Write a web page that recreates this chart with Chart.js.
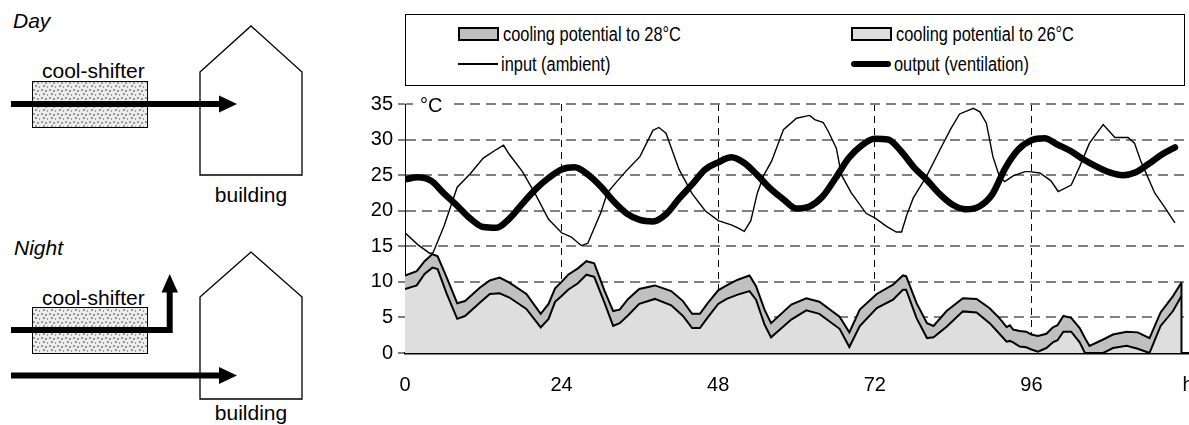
<!DOCTYPE html>
<html>
<head>
<meta charset="utf-8">
<script src="https://cdn.jsdelivr.net/npm/chart.js@4"></script>
<style>
  html, body { margin: 0; padding: 0; width: 1189px; height: 425px; overflow: hidden; background: #fff;
    font-family: "Liberation Sans", Arial, sans-serif; color: #000; }
  #diagram { position: absolute; left: 0; top: 0; }
  #chartBox { position: absolute; left: 340px; top: 0; width: 900px; height: 425px; }
  #legend { position: absolute; left: 405px; top: 14px; width: 780px; height: 72px; border: 1px solid #000; box-sizing: border-box; background: #fff; }
  .item { position: absolute; height: 22px; display: flex; align-items: center; white-space: nowrap; }
  .lt { display: inline-block; font-family: "Liberation Sans Narrow", "Arial Narrow", sans-serif; font-size: 20px; transform-origin: left center; }
  .swatch { width: 37px; height: 10px; border: 2px solid #000; margin-right: 4px; }
  .ln { width: 40px; background: #000; margin-right: 3px; }
  #unit { position: absolute; left: 413px; top: 95px; background: #fff; font-size: 20px; line-height: 20px; padding: 0 6px 0 7px; }
</style>
</head>
<body>

<svg id="diagram" width="340" height="425" xmlns="http://www.w3.org/2000/svg" font-family="Liberation Sans, Arial, sans-serif" font-size="21">
  <defs>
    <pattern id="dots" width="8" height="8" patternUnits="userSpaceOnUse">
      <rect width="8" height="8" fill="#ececec"/>
      <rect x="1" y="1" width="2" height="2" fill="#9a9a9a"/>
      <rect x="5" y="2" width="2" height="2" fill="#9a9a9a"/>
      <rect x="3" y="5" width="2" height="2" fill="#9a9a9a"/>
      <rect x="7" y="6" width="1" height="2" fill="#9a9a9a"/>
    </pattern>
  </defs>
  <!-- Day -->
  <text x="13" y="28" font-style="italic">Day</text>
  <text x="42" y="78">cool-shifter</text>
  <rect x="32.5" y="81.5" width="115" height="46" fill="url(#dots)" stroke="#000" stroke-width="1"/>
  <polygon points="200,72 251,26 302,72 302,175 200,175" fill="none" stroke="#000" stroke-width="1.3"/>
  <line x1="11" y1="104" x2="220" y2="104" stroke="#000" stroke-width="6"/>
  <polygon points="219,95.5 237,104 219,112.5" fill="#000"/>
  <text x="251" y="202" text-anchor="middle">building</text>
  <!-- Night -->
  <text x="14" y="255" font-style="italic">Night</text>
  <text x="42" y="305">cool-shifter</text>
  <rect x="32.5" y="307.5" width="115" height="46" fill="url(#dots)" stroke="#000" stroke-width="1"/>
  <polygon points="200,297 251,252 302,297 302,399 200,399" fill="none" stroke="#000" stroke-width="1.3"/>
  <path d="M11 330 H169.7 V292" fill="none" stroke="#000" stroke-width="6"/>
  <polygon points="161.5,292.5 169.7,274 178,292.5" fill="#000"/>
  <line x1="11" y1="375.5" x2="220" y2="375.5" stroke="#000" stroke-width="6"/>
  <polygon points="219,367 237,375.5 219,384" fill="#000"/>
  <text x="251" y="420" text-anchor="middle">building</text>
</svg>

<div id="chartBox"><canvas id="chart" width="900" height="425"></canvas></div>

<div id="legend">
  <div class="item" style="left:52px; top:8px;"><span class="swatch" style="background:#c0c0c0"></span><span class="lt">cooling potential to 28°C</span></div>
  <div class="item" style="left:445px; top:8px;"><span class="swatch" style="background:#dedede"></span><span class="lt">cooling potential to 26°C</span></div>
  <div class="item" style="left:52px; top:38px;"><span class="ln" style="height:1.5px"></span><span class="lt">input (ambient)</span></div>
  <div class="item" style="left:445px; top:38px;"><span class="ln" style="height:6px; border-radius:3px"></span><span class="lt">output (ventilation)</span></div>
</div>
<div id="unit">°C</div>

<script>
// x axis (hours) and y axis (°C)
const xTicks = [0, 24, 48, 72, 96, 120];
const xTickLabels = ['0', '24', '48', '72', '96', 'h'];
const yTicks = [0, 5, 10, 15, 20, 25, 30, 35];

// cooling potential (hours / °C)
const coolHours = [0, 1.8, 3, 4.2, 5, 6.4, 8, 9.2, 11.5, 13, 14.5, 16, 18.6, 20.8, 22, 23, 24, 25, 26.5, 27.8,
  29, 30.6, 31.9, 32.9, 34.2, 35.9, 38.3, 40.8, 42.6, 44, 45.2, 46.4, 48, 49.3, 51, 52.8, 53.8, 55.1, 56.1, 59.2,
  61.5, 63.5, 66.6, 68.1, 69.7, 72.3, 74.8, 76.3, 76.8, 78.4, 80, 81, 83, 85.5, 87.6, 89.6, 91.1, 92.2, 92.7, 93.2,
  94.2, 95.2, 96, 97, 98.3, 99.3, 100, 100.9, 102.1, 103.4, 104.2, 104.9, 107, 108.5, 110.6, 112.3, 114.1, 115.8, 117.7, 119];
const cool28 = [10.9, 11.5, 12.9, 13.9, 13.6, 10.6, 7.0, 7.3, 9.2, 10.2, 10.6, 9.9, 8.3, 5.5, 6.9, 9.1, 10.0, 11.0, 11.9, 12.9,
  12.6, 8.7, 5.9, 6.1, 7.6, 9.0, 9.5, 8.7, 7.3, 5.5, 5.5, 7.0, 8.8, 9.5, 10.3, 10.9, 9.4, 6.1, 4.2, 6.8,
  7.7, 7.2, 5.1, 2.9, 6.1, 8.3, 9.6, 10.9, 10.8, 7.0, 4.2, 3.8, 5.9, 7.7, 7.6, 6.3, 4.9, 3.65, 3.9, 3.3,
  3.1, 3.0, 2.6, 2.4, 2.7, 3.6, 3.9, 5.2, 4.95, 3.5, 2.1, 1.0, 1.9, 2.6, 3.0, 2.9, 2.1, 5.7, 8.0, 9.9];
const cool26 = [9.0, 9.5, 11.1, 12.0, 11.8, 8.3, 4.8, 5.2, 7.1, 8.3, 8.4, 7.8, 6.2, 3.6, 4.8, 7.2, 8.0, 8.9, 9.8, 11.0,
  10.7, 7.0, 3.8, 4.2, 5.3, 6.9, 7.6, 6.7, 5.2, 3.5, 3.5, 5.0, 6.9, 7.6, 8.2, 8.7, 7.5, 4.0, 2.2, 4.7,
  6.0, 5.5, 3.4, 0.85, 3.8, 6.3, 7.5, 8.9, 8.9, 4.9, 2.1, 2.2, 3.7, 5.85, 5.7, 4.2, 2.7, 1.6, 1.7, 1.5,
  0.9, 0.8, 0.5, 0.2, 0.7, 1.5, 1.8, 3.0, 3.0, 1.5, 0.0, 0.0, 0.0, 0.7, 1.0, 0.6, 0.0, 3.8, 5.9, 8.0];

// input (ambient)
const inHours = [0, 2, 3.8, 4.3, 6, 8, 10, 12, 14, 15.1, 16, 18, 20, 22, 24, 25.5, 27, 28, 30, 31,
  32, 34, 36, 38, 38.9, 40, 42, 44, 46, 48, 50, 51, 52, 53, 54, 55, 56.2, 58, 60, 62,
  62.8, 64.1, 64.9, 66.1, 66.9, 68.4, 70.7, 72, 73.8, 75.3, 76.1, 76.9, 77.9, 79.9, 82, 83.7, 85, 87.1, 88.1, 89.1,
  90.1, 91.1, 91.9, 93.2, 95, 95.7, 97.3, 99, 100.1, 102.1, 103.4, 104.9, 107, 108.8, 110.8, 111.8, 112.8, 114.9, 116.2, 118];
const inputTemp = [16.9, 15.2, 14.0, 14.1, 17.9, 23.3, 25.2, 27.4, 28.6, 29.2, 27.9, 25.5, 22.3, 18.8, 16.9, 16.3, 15.1, 15.4, 19.7, 22.5,
  23.6, 25.7, 27.6, 31.3, 31.7, 30.9, 25.8, 22.4, 20.0, 18.6, 18.0, 17.6, 17.1, 18.6, 22.5, 25.0, 27.0, 31.4, 33.0, 33.4,
  32.8, 32.4, 31.1, 28.8, 25.0, 22.5, 19.6, 19.0, 17.8, 17.0, 17.0, 19.4, 21.8, 24.8, 28.6, 31.6, 33.6, 34.4, 33.9, 32.3,
  27.6, 24.8, 24.1, 24.9, 25.5, 25.5, 25.3, 24.2, 22.7, 23.6, 26.2, 29.5, 32.1, 30.3, 30.3, 29.5, 26.9, 22.5, 20.8, 18.3];

// output (ventilation), every 2 hours
const outHours = [0, 2, 4, 6, 8, 10, 12, 14, 16, 18, 20, 22, 24, 26, 28, 30, 32, 34, 36, 38,
  40, 42, 44, 46, 48, 50, 52, 54, 56, 58, 60, 62, 64, 66, 68, 70, 72, 74, 76, 78,
  80, 82, 84, 86, 88, 90, 92, 94, 96, 98, 100, 102, 104, 106, 108, 110, 112, 114, 116, 118];
const outputTemp = [24.4, 24.7, 24.2, 22.4, 20.7, 18.9, 17.7, 17.6, 18.9, 21.0, 23.0, 24.6, 25.8, 26.1, 25.1, 23.4, 21.3, 19.6, 18.7, 18.5,
  19.5, 21.7, 23.7, 25.8, 26.8, 27.5, 26.7, 25.0, 23.1, 21.6, 20.3, 20.6, 22.0, 24.6, 27.4, 29.2, 30.1, 30.0, 28.4, 26.1,
  24.3, 22.3, 20.8, 20.2, 20.6, 22.3, 26.0, 28.6, 29.9, 30.2, 29.3, 28.4, 27.2, 26.2, 25.4, 25.0, 25.4, 26.6, 27.9, 28.9];

const pts = (xs, ys) => xs.map((x, i) => ({ x: x, y: ys[i] }));

// legend text is a narrow face; squeeze the regular one if the narrow one is missing
(function () {
  const c = document.createElement('canvas').getContext('2d');
  c.font = '20px "Liberation Sans Narrow", monospace';
  const a = c.measureText('cooling potential').width;
  c.font = '20px monospace';
  const b = c.measureText('cooling potential').width;
  if (Math.abs(a - b) < 0.5) {
    document.querySelectorAll('.lt').forEach(el => {
      el.style.fontFamily = '"Liberation Sans", Arial, sans-serif';
      el.style.transform = 'scaleX(0.82)';
    });
  }
})();

// Excel closes the area outline on its right end
const areaEdge = {
  id: 'areaEdge',
  afterDatasetsDraw(chart) {
    const meta = chart.getDatasetMeta(2);
    const last = meta.data[meta.data.length - 1];
    const ctx = chart.ctx;
    ctx.save();
    ctx.strokeStyle = '#000';
    ctx.lineWidth = 2;
    ctx.beginPath();
    ctx.moveTo(last.x, last.y);
    ctx.lineTo(last.x, chart.scales.y.getPixelForValue(0));
    ctx.stroke();
    ctx.restore();
  }
};

const tickFont = { family: '"Liberation Sans", Arial, sans-serif', size: 20 };

new Chart(document.getElementById('chart').getContext('2d'), {
  type: 'line',
  data: {
    datasets: [
      {
        label: 'output (ventilation)',
        data: pts(outHours, outputTemp),
        borderColor: '#000',
        borderWidth: 6.5,
        borderCapStyle: 'round',
        borderJoinStyle: 'round',
        cubicInterpolationMode: 'monotone',
        fill: false
      },
      {
        label: 'input (ambient)',
        data: pts(inHours, inputTemp),
        borderColor: '#000',
        borderWidth: 1.4,
        fill: false
      },
      {
        label: 'cooling potential to 28°C',
        data: pts(coolHours, cool28),
        borderColor: '#000',
        borderWidth: 2,
        backgroundColor: '#c0c0c0',
        fill: '+1'
      },
      {
        label: 'cooling potential to 26°C',
        data: pts(coolHours, cool26),
        borderColor: '#000',
        borderWidth: 2,
        backgroundColor: '#dedede',
        fill: 'origin'
      }
    ]
  },
  options: {
    responsive: false,
    animation: false,
    devicePixelRatio: 1,
    layout: { padding: { top: 104, right: 52, left: 0, bottom: 0 } },
    elements: { point: { radius: 0 }, line: { tension: 0 } },
    plugins: {
      legend: { display: false },
      tooltip: { enabled: false },
      filler: { drawTime: 'beforeDatasetsDraw' }
    },
    scales: {
      x: {
        type: 'linear',
        min: 0,
        max: 120,
        afterBuildTicks: axis => { axis.ticks = xTicks.map(v => ({ value: v })); },
        afterFit: axis => { axis.height = 72; },
        ticks: {
          callback: (v, i) => xTickLabels[i],
          font: tickFont,
          color: '#000',
          padding: 20,
          maxRotation: 0,
          autoSkip: false
        },
        grid: {
          drawTicks: false,
          lineWidth: 1,
          color: ctx => (ctx.tick && (ctx.tick.value === 0 || ctx.tick.value === 120)) ? 'rgba(0,0,0,0)' : '#000'
        },
        border: { display: true, color: '#000', width: 2.5, dash: [7, 5] }
      },
      y: {
        min: 0,
        max: 35,
        afterBuildTicks: axis => { axis.ticks = yTicks.map(v => ({ value: v })); },
        afterFit: axis => { axis.width = 65; },
        ticks: { font: tickFont, color: '#000', padding: 5 },
        grid: {
          lineWidth: 2,
          color: ctx => (ctx.tick && ctx.tick.value === 0) ? 'rgba(0,0,0,0)' : '#808080',
          tickLength: 7,
          tickColor: '#808080',
          tickWidth: 2
        },
        border: { display: true, color: '#000', width: 1, dash: [10, 6] }
      }
    }
  },
  plugins: [areaEdge]
});
</script>
</body>
</html>
